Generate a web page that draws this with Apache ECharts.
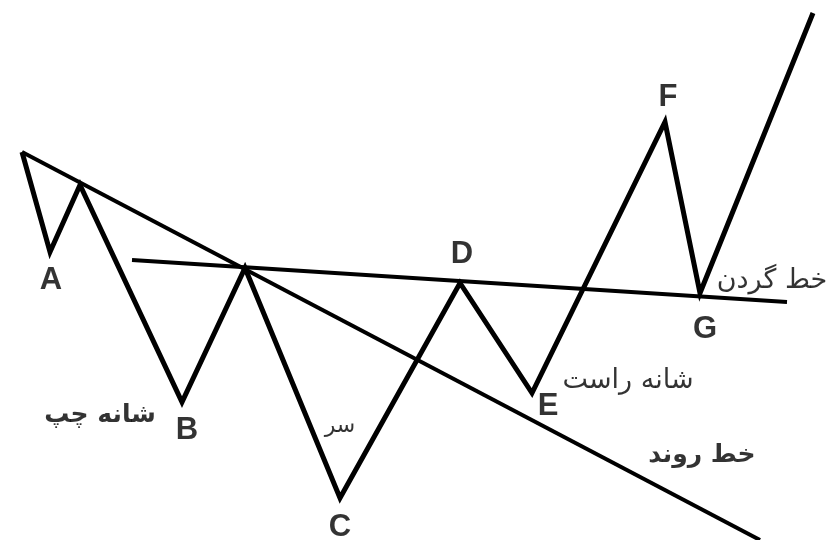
<!DOCTYPE html>
<html>
<head>
<meta charset="utf-8">
<script src="https://cdn.jsdelivr.net/npm/echarts@6/dist/echarts.min.js"></script>
<style>html,body{margin:0;padding:0;background:#fff}#c{width:830px;height:540px}</style>
</head>
<body>
<div id="c"></div>
<script>
// Price path (pixel-space coordinates of the diagram)
var pathX = [22, 50, 80, 182, 245, 340, 460, 532, 665, 700, 813];
var pathY = [152, 252, 185, 402, 268, 498, 283, 393, 122, 293, 13];
// Trend line and neck line endpoints
var trendX = [22, 760];
var trendY = [152, 540];
var neckX = [132, 787];
var neckY = [260, 302];
// Point letters
var letterNames = ['A', 'B', 'C', 'D', 'E', 'F', 'G'];
var letterX = [51, 187, 340, 462, 548, 668, 705];
var letterY = [280, 430, 527, 254, 406, 97, 329];
// Persian annotations
var noteNames = ['شانه چپ', 'سر', 'شانه راست', 'خط روند', 'خط گردن'];
var noteX = [100, 340, 628, 702, 772];
var noteY = [415, 426, 381, 455, 281];
var noteBold = [true, false, false, true, false];
var noteSize = [25, 22, 27, 25, 27];

function zip(xs, ys) { return xs.map(function (x, i) { return [x, ys[i]]; }); }

var chart = echarts.init(document.getElementById('c'), null, {renderer: 'canvas'});
chart.setOption({
  backgroundColor: '#fff',
  animation: false,
  grid: {left: 0, right: 0, top: 0, bottom: 0},
  xAxis: {type: 'value', min: 0, max: 830, show: false},
  yAxis: {type: 'value', min: 0, max: 540, inverse: true, show: false},
  series: [
    {type: 'line', data: zip(trendX, trendY), symbol: 'none', clip: false,
     lineStyle: {color: '#000', width: 4}},
    {type: 'line', data: zip(neckX, neckY), symbol: 'none', clip: false,
     lineStyle: {color: '#000', width: 4}},
    {type: 'line', data: zip(pathX, pathY), symbol: 'none', clip: false,
     lineStyle: {color: '#000', width: 5, join: 'miter'}},
    {type: 'scatter', symbolSize: 0, silent: true,
     data: letterNames.map(function (n, i) { return {name: n, value: [letterX[i], letterY[i]]}; }),
     label: {show: true, position: 'inside', formatter: '{b}', color: '#000',
             textBorderWidth: 0, fontFamily: 'Liberation Sans', fontWeight: 'bold', fontSize: 31}},
    {type: 'scatter', symbolSize: 0, silent: true,
     data: noteNames.map(function (n, i) {
       return {name: n, value: [noteX[i], noteY[i]],
               label: {fontWeight: noteBold[i] ? 'bold' : 'normal', fontSize: noteSize[i]}};
     }),
     label: {show: true, position: 'inside', formatter: '{b}', color: '#000',
             textBorderWidth: 0, fontFamily: 'DejaVu Sans'}}
  ]
});
</script>
</body>
</html>
